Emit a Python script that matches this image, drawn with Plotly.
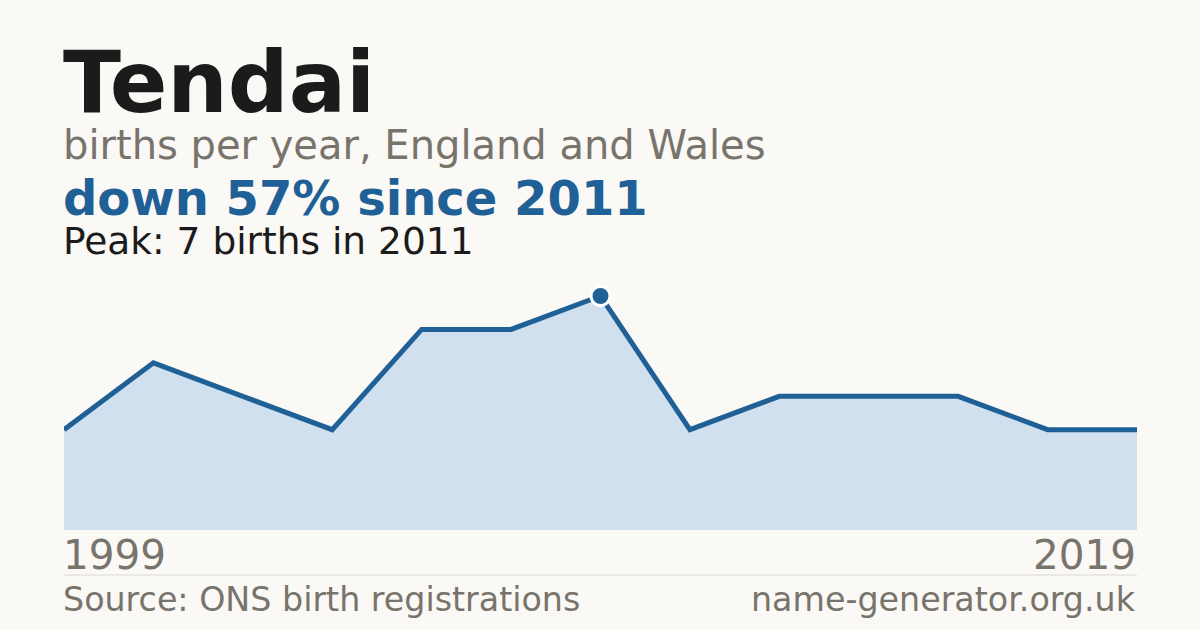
import plotly.graph_objects as go

years = ["1999", "2001", "2003", "2006", "2008", "2009", "2011",
         "2012", "2014", "2015", "2016", "2018", "2019"]
births = [3, 5, 4, 3, 6, 6, 7, 3, 4, 4, 4, 3, 3]

name = "Tendai"
subtitle = "births per year, England and Wales"
source = "Source: ONS birth registrations"
site = "name-generator.org.uk"

BG = "#faf9f5"
BLUE = "#1f6096"
GREY = "#78746c"
FONT = "DejaVu Sans"

# plot box in pixels
L, R, T, B = 64, 1137, 270, 530
W, H = 1200, 630


def py(y):
    # pixel row -> paper y
    return (B - y) / (B - T)


peak_i = births.index(max(births))
peak_year = years[peak_i]
change = round((births[-1] - births[peak_i]) / births[peak_i] * 100)
headline = f"{'down' if change < 0 else 'up'} {abs(change)}% since {peak_year}"
peak_text = f"Peak: {births[peak_i]} births in {peak_year}"

fig = go.Figure()
fig.add_trace(go.Scatter(
    x=list(range(len(years))), y=births,
    mode="lines", fill="tozeroy",
    fillcolor="#d0e0ef",
    line=dict(color=BLUE, width=5),
    hoverinfo="skip",
))
fig.add_trace(go.Scatter(
    x=[peak_i], y=[births[peak_i]],
    mode="markers",
    marker=dict(size=19, color=BLUE, line=dict(color="white", width=3)),
    hoverinfo="skip",
))

ymax = max(births) * (B - T) / (B - 296)

fig.update_layout(
    width=W, height=H,
    paper_bgcolor=BG, plot_bgcolor=BG,
    margin=dict(l=L, r=W - R, t=T, b=H - B),
    showlegend=False,
    xaxis=dict(range=[0, len(years) - 1], visible=False),
    yaxis=dict(range=[0, ymax], visible=False),
    font=dict(family=FONT),
)

# left-anchored annotations sit ~2px inside their anchor, nudge them back out
nudge = 2 / (R - L)
texts = [
    # text, x, top pixel, size, colour, bold, anchor
    (name, 0, 32, 85, "#1b1b1b", True, "left"),
    (subtitle, 0, 121, 40, GREY, False, "left"),
    (headline, 0, 169, 48, BLUE, True, "left"),
    (peak_text, 0, 218, 37.5, "#1b1b1b", False, "left"),
    (years[0], 0, 530, 40.5, GREY, False, "left"),
    (years[-1], 1, 530, 40.5, GREY, False, "right"),
    (source, 0, 579, 33.3, GREY, False, "left"),
    (site, 1, 579, 33.3, GREY, False, "right"),
]
for txt, x, top, size, col, bold, anchor in texts:
    fig.add_annotation(
        text=f"<b>{txt}</b>" if bold else txt,
        xref="paper", yref="paper",
        x=x - nudge if anchor == "left" else x, y=py(top),
        xanchor=anchor, yanchor="top", showarrow=False, borderpad=0,
        font=dict(family=FONT, size=size, color=col),
    )

# thin rule above the footer
fig.add_shape(type="line", xref="paper", yref="paper",
              x0=0, x1=1, y0=py(575), y1=py(575),
              line=dict(color="#dcd9d2", width=1))

# drop the page margin so the card fills the window
fig.write_html("out.html", config={"displayModeBar": False}, post_script=(
    "document.body.style.margin='0';"
    f"document.body.style.background='{BG}';"
))
